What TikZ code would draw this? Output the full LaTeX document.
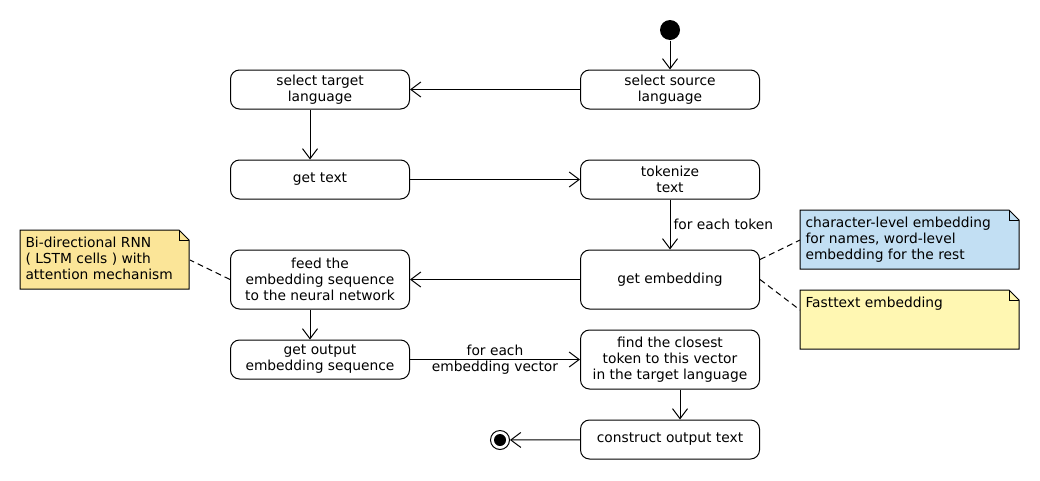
\documentclass[tikz,border=0pt]{standalone}
\usepackage{fontspec}
\setmainfont{DejaVu Sans}
\usetikzlibrary{arrows.meta}

\definecolor{rnnyellow}{RGB}{251,229,152}
\definecolor{charblue}{RGB}{194,223,243}
\definecolor{fastyellow}{RGB}{255,247,178}

\newcommand{\notebox}[6]{% name, corner, width, height, colour, text
    \def\fold{10}
    \draw[fill=#5] (#2) -- ++(#3-\fold,0) -- ++(\fold,\fold) -- ++(0,#4-\fold)
        -- ++(-#3,0) -- cycle;
    \draw (#2) ++(#3-\fold,0) -- ++(0,\fold) -- ++(\fold,0);
    \node[minimum width=#3, minimum height=#4, anchor=north west, inner sep=0pt]
        (#1) at (#2) {};
    \node[notetext, anchor=north west] (#1text) at (#1.north west) {#6};
}

\begin{document}
\begin{tikzpicture}[x=1pt, y=-1pt, line width=1pt,
    font=\fontsize{13.8}{16}\selectfont,
    >={Straight Barb[length=10pt,width=15pt]},
    act/.style={draw, rounded corners=9pt, minimum width=179pt,
        minimum height=39pt, align=center},
    tall/.style={act, minimum height=59pt},
    notetext/.style={align=left, inner xsep=5pt, inner ysep=7pt},
    notelink/.style={dash pattern=on 6pt off 4pt}]
    \useasboundingbox (0,0) rectangle (1040,480);

    % activities
    \node[circle, fill, inner sep=0pt, minimum size=20pt] (start) at (670,30) {};
    \node[act] (srclang) at (670,89.5) {select source\\language};
    \node[act] (tgtlang) at (320,89.5) {select target\\language};
    \node[act] (gettext) at (320,179.5) {get text};
    \node[act] (tokenize) at (670,179.5) {tokenize\\text};
    \node[tall] (getemb) at (670,279.5) {get embedding};
    \node[tall] (feednet) at (320,279.5) {feed the\\embedding sequence\\to the neural network};
    \node[act] (getout) at (320,359.5) {get output\\embedding sequence};
    \node[tall] (closest) at (670,359.5) {find the closest\\token to this vector\\in the target language};
    \node[act] (construct) at (670,439.5) {construct output text};
    \node[circle, draw, inner sep=0pt, minimum size=19pt] (stop) at (500,440) {};
    \fill (stop) circle (6);

    % flow
    \draw[->] (start) -- (srclang);
    \draw[->] (srclang) -- (tgtlang);
    \draw[->] ([xshift=-10pt]tgtlang.south) -- ([xshift=-10pt]gettext.north);
    \draw[->] (gettext) -- (tokenize);
    \draw[->] (tokenize) -- node[right, inner sep=3pt] (tokenlabel) {for each token} (getemb);
    \draw[->] (getemb) -- (feednet);
    \draw[->] ([xshift=-10pt]feednet.south) -- ([xshift=-10pt]getout.north);
    \draw[->] (getout) -- node[align=center] (veclabel) {for each\\embedding vector} (closest);
    \draw[->] ([xshift=10pt]closest.south) -- ([xshift=10pt]construct.north);
    \draw[->] (construct) -- (stop);

    % notes
    \notebox{rnnnote}{20,230}{169}{59}{rnnyellow}{Bi-directional RNN\\( LSTM cells ) with\\attention mechanism}
    \notebox{charnote}{800,210}{219}{59}{charblue}{character-level embedding\\for names, word-level\\embedding for the rest}
    \notebox{fastnote}{800,290}{219}{59}{fastyellow}{Fasttext embedding}
    \draw[notelink] (feednet.west) -- (rnnnote.east);
    \draw[notelink] ([yshift=20pt]getemb.east) -- (charnote.west);
    \draw[notelink] (getemb.east) -- ([yshift=10pt]fastnote.west);
\end{tikzpicture}
\end{document}
